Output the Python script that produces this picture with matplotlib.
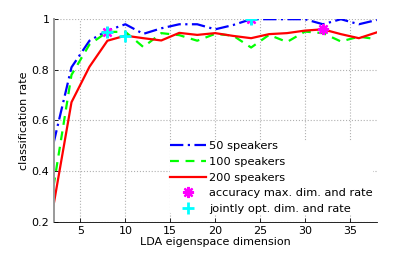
import matplotlib
matplotlib.use("Agg")
import matplotlib.pyplot as plt
from matplotlib.lines import Line2D

plt.rcParams['font.family'] = ['DejaVu Sans']

dims = [2, 4, 6, 8, 10, 12, 14, 16, 18, 20, 22, 24, 26, 28, 30, 32, 34, 36, 38]
rate_50 = [0.51, 0.81, 0.915, 0.955, 0.98, 0.942, 0.964, 0.98, 0.98, 0.96, 0.977,
           1.0, 1.0, 1.0, 1.0, 0.98, 1.0, 0.98, 0.997]
rate_100 = [0.34, 0.78, 0.90, 0.95, 0.95, 0.89, 0.945, 0.937, 0.915, 0.942, 0.935,
            0.888, 0.938, 0.91, 0.951, 0.945, 0.912, 0.931, 0.921]
rate_200 = [0.265, 0.672, 0.812, 0.915, 0.935, 0.925, 0.916, 0.946, 0.938, 0.945, 0.934,
            0.925, 0.941, 0.945, 0.955, 0.96, 0.941, 0.925, 0.948]

max_dim = [8, 24, 32]
max_rate = [0.95, 1.0, 0.96]
opt_dim = [8, 10, 24]
opt_rate = [0.95, 0.935, 1.0]

labels = ['50 speakers', '100 speakers', '200 speakers',
          'accuracy max. dim. and rate', 'jointly opt. dim. and rate']

fig = plt.figure(figsize=(4.15, 2.56), dpi=100)
ax = fig.add_axes([0.129, 0.134, 0.779, 0.791])

fs = 8
lw = 1.6
ax.plot(dims, rate_50, color='#0000ff', linestyle='-.', lw=lw, dashes=(6, 2, 1, 2))
ax.plot(dims, rate_100, color='#00ff00', linestyle='--', lw=lw, dashes=(4, 3))
ax.plot(dims, rate_200, color='#ff0000', linestyle='-', lw=lw)
ax.plot(max_dim, max_rate, linestyle='none', marker=(8, 2, 0), markersize=8,
        markeredgecolor='#ff00ff', markeredgewidth=1.6, zorder=5)
ax.plot(opt_dim, opt_rate, linestyle='none', marker='+', markersize=9,
        markeredgecolor='#00ffff', markeredgewidth=2.0, zorder=6)

ax.set_xlim(2, 38)
ax.set_ylim(0.2, 1.0)
ax.set_xticks([5, 10, 15, 20, 25, 30, 35])
ax.set_yticks([0.2, 0.4, 0.6, 0.8, 1.0])
ax.set_yticklabels(['0.2', '0.4', '0.6', '0.8', '1'])
ax.tick_params(direction='in', length=3, labelsize=fs, width=0.6, pad=3)
ax.grid(True, linestyle=':', color='#b0b0b0', linewidth=0.8)
ax.set_axisbelow(True)
for s in ['top', 'right']:
    ax.spines[s].set_visible(False)
ax.spines['left'].set_color('#999999')
ax.spines['left'].set_linewidth(1.4)
ax.spines['bottom'].set_color('black')
ax.spines['bottom'].set_linewidth(0.6)

ax.set_xlabel('LDA eigenspace dimension', fontsize=fs, labelpad=1)
ax.set_ylabel('classification rate', fontsize=fs, labelpad=2)

handles = [
    Line2D([], [], color='#0000ff', linestyle='-.', lw=lw, dashes=(6, 2, 1, 2)),
    Line2D([], [], color='#00ff00', linestyle='--', lw=lw, dashes=(4, 3)),
    Line2D([], [], color='#ff0000', linestyle='-', lw=lw),
    Line2D([], [], linestyle='none', marker=(8, 2, 0), markersize=8,
           markeredgecolor='#ff00ff', markeredgewidth=1.6),
    Line2D([], [], linestyle='none', marker='+', markersize=9,
           markeredgecolor='#00ffff', markeredgewidth=2.0),
]
leg = ax.legend(handles, labels, loc='upper left', bbox_to_anchor=(0.36, 0.40),
                fontsize=8.2, frameon=True, facecolor='white', edgecolor='none',
                framealpha=1, borderpad=0, handlelength=3.2, handletextpad=0.25,
                labelspacing=0.52, borderaxespad=0)

fig.savefig('out.png', dpi=100)
